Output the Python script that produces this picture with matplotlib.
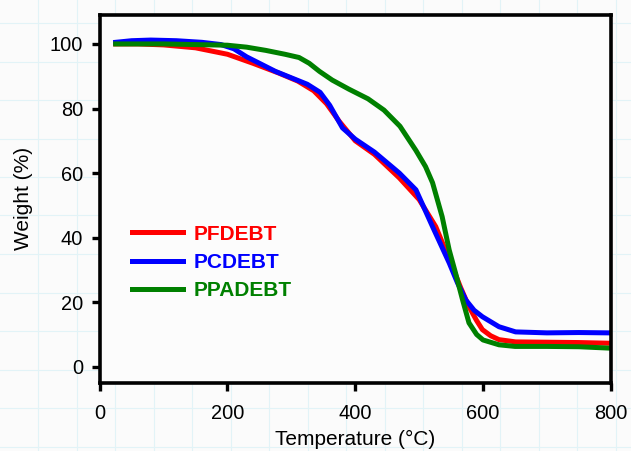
import matplotlib.pyplot as plt
import matplotlib.lines as mlines
import numpy as np

# TGA curves
temp_pf = [25, 60, 100, 150, 200, 240, 280, 310, 335, 355, 375, 400, 430, 469, 500, 526, 552,
           565, 578, 590, 599, 612, 625, 651, 700, 750, 795]
wt_pf = [100, 100, 99.7, 98.8, 96.8, 94, 91, 88.5, 85.5, 81.5, 76, 70, 65.8, 58.5, 51.8, 43.4, 31,
         24.5, 18.6, 14.3, 11.5, 9.6, 8.4, 7.7, 7.6, 7.5, 7.3]

temp_pc = [25, 50, 80, 120, 160, 190, 210, 230, 250, 275, 300, 325, 345, 360, 380, 400, 430, 469,
           495, 521, 547, 560, 573, 586, 599, 625, 651, 700, 750, 795]
wt_pc = [100.5, 101, 101.2, 101, 100.5, 99.8, 98.5, 96, 94, 91.5, 89.5, 87.5, 85, 81, 74, 70.5, 66.5,
         60, 54.8, 43.4, 32.2, 26, 20.7, 17.5, 15.5, 12.4, 10.8, 10.5, 10.6, 10.5]

temp_pa = [25, 60, 100, 150, 200, 230, 260, 290, 312, 328, 344, 364, 390, 420, 445, 470, 495, 510,
           521, 536, 547, 557, 568, 578, 590, 600, 625, 650, 700, 750, 795]
wt_pa = [100, 100, 100, 99.8, 99.6, 99, 98, 96.8, 95.8, 94, 91.5, 88.8, 86, 83, 79.5, 74.5, 67, 62,
         57, 46.5, 36.2, 29, 20.7, 13.6, 10, 8.3, 6.8, 6.3, 6.3, 6.2, 5.8]

names = ["PFDEBT", "PCDEBT", "PPADEBT"]
colors = ["#ff0000", "#0000ff", "#008000"]

plt.rcParams['font.family'] = ['Liberation Sans', 'DejaVu Sans']

fig = plt.figure(figsize=(6.31, 4.51), dpi=100)
fig.patch.set_facecolor("#fbfbfb")

# faint paper grid in the background
for gx in np.arange(38, 631, 38.5):
    fig.add_artist(mlines.Line2D([gx / 631, gx / 631], [0, 1], color="#e2f3f7", lw=0.8, zorder=0))
for gy in np.arange(23, 451, 38.5):
    fig.add_artist(mlines.Line2D([0, 1], [1 - gy / 451, 1 - gy / 451], color="#e2f3f7", lw=0.8, zorder=0))

ax = fig.add_axes([0.158, 0.151, 0.81, 0.816])
ax.set_facecolor("#fcfcfc")

ax.plot(temp_pf, wt_pf, color=colors[0], lw=3.6, label=names[0])
ax.plot(temp_pc, wt_pc, color=colors[1], lw=3.6, label=names[1])
ax.plot(temp_pa, wt_pa, color=colors[2], lw=3.6, label=names[2])

ax.set_xlim(0, 800)
ax.set_ylim(-5, 109)
ax.set_xticks([0, 200, 400, 600, 800])
ax.set_yticks([0, 20, 40, 60, 80, 100])
ax.tick_params(direction="out", length=6, width=2.4, labelsize=14.4, pad=6)
ax.tick_params(axis="x", pad=9)
for s in ax.spines.values():
    s.set_linewidth(2.6)

ax.set_xlabel("Temperature (°C)", fontsize=15, labelpad=5.5)
ax.set_ylabel("Weight (%)", fontsize=15, labelpad=12)

leg = ax.legend(loc="upper left", bbox_to_anchor=(0.063, 0.43), frameon=False,
                labelcolor="linecolor", prop={"weight": "bold", "size": 15},
                handlelength=2.45, handletextpad=0.5, labelspacing=0.44,
                borderpad=0, borderaxespad=0)

fig.savefig("out.png", dpi=100, facecolor=fig.get_facecolor())
